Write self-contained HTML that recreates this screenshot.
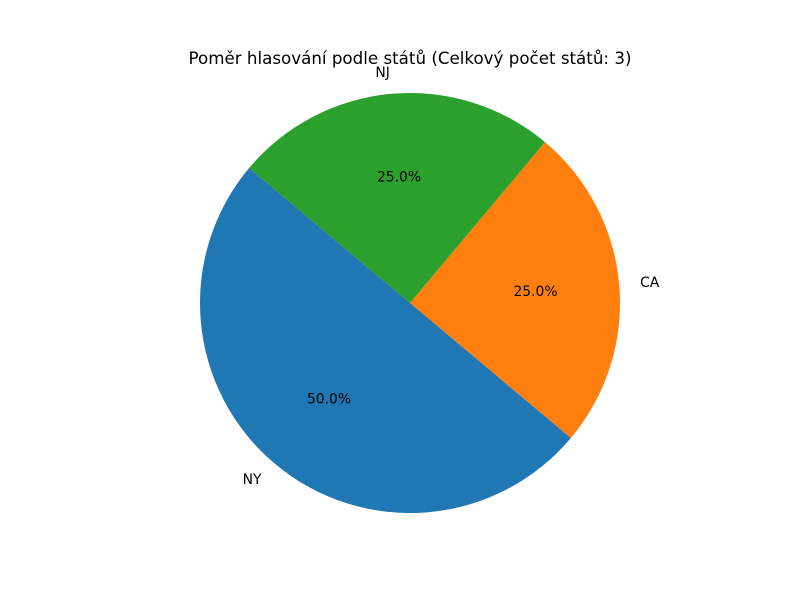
<!DOCTYPE html>
<html><head><meta charset="utf-8"><style>
body{margin:0;background:#fff;}
svg{display:block;font-family:"DejaVu Sans","Liberation Sans",sans-serif;}
</style></head><body>
<svg id="chart" width="800" height="600">
<rect width="800" height="600" fill="#fff"/>
<text x="410" y="64" text-anchor="middle" font-size="16.7">Poměr hlasování podle států (Celkový počet států: 3)</text>
<g id="slices"></g>
</svg>
<script>
const categories = ["NY", "CA", "NJ"];
const values = [2, 1, 1];
const colors = ["#1f77b4", "#ff7f0e", "#2ca02c"];
const startAngle = 140;
const cx = 410, cy = 303, r = 210;
const g = document.getElementById('slices');
const ns = 'http://www.w3.org/2000/svg';
const total = values.reduce((a, b) => a + b, 0);
function pt(deg, rad) { const a = deg * Math.PI / 180; return [cx + rad * Math.cos(a), cy - rad * Math.sin(a)]; }
let ang = startAngle;
values.forEach((v, i) => {
  const sweep = v / total * 360;
  const a0 = ang, a1 = ang + sweep;
  const p0 = pt(a0, r), p1 = pt(a1, r);
  const large = sweep > 180 ? 1 : 0;
  const path = document.createElementNS(ns, 'path');
  path.setAttribute('d', `M${cx},${cy} L${p0[0]},${p0[1]} A${r},${r} 0 ${large} 0 ${p1[0]},${p1[1]} Z`);
  path.setAttribute('fill', colors[i]);
  
  
  g.appendChild(path);
  const mid = (a0 + a1) / 2;
  const lp = pt(mid, r * 1.1);
  const lab = document.createElementNS(ns, 'text');
  lab.setAttribute('x', lp[0]);
  lab.setAttribute('y', lp[1] + 4);
  lab.setAttribute('font-size', '13.9');
  lab.setAttribute('text-anchor', lp[0] > cx + 1 ? 'start' : (lp[0] < cx - 1 ? 'end' : 'middle'));
  lab.textContent = categories[i];
  
  
  g.appendChild(lab);
  const pp = pt(mid, r * 0.6);
  const pct = document.createElementNS(ns, 'text');
  pct.setAttribute('x', pp[0]);
  pct.setAttribute('y', pp[1] + 4);
  pct.setAttribute('font-size', '13.9');
  pct.setAttribute('text-anchor', 'middle');
  pct.textContent = (v / total * 100).toFixed(1) + '%';
  
  
  g.appendChild(pct);
  ang = a1;
});
</script>
</body></html>
